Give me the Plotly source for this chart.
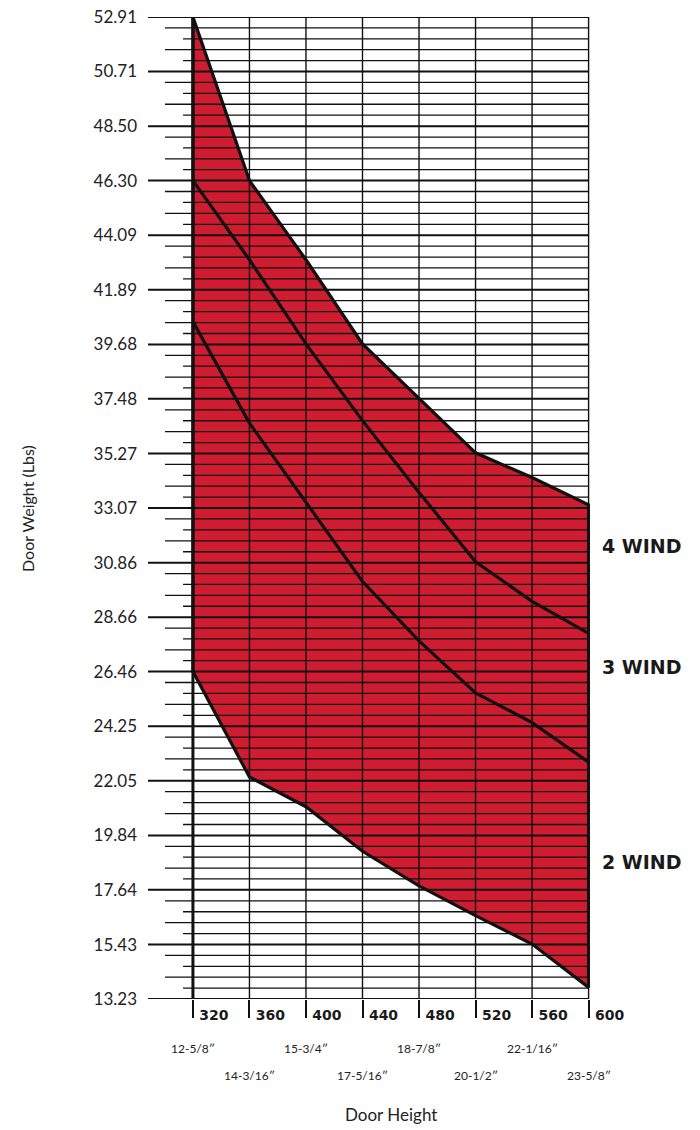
import plotly.graph_objects as go

# ---------------- data ----------------
door_heights = [320, 360, 400, 440, 480, 520, 560, 600]
height_tick_text = ["320", "360", "400", "440", "480", "520", "560", "600"]
inch_labels = ["12-5/8″", "14-3/16″", "15-3/4″", "17-5/16″",
               "18-7/8″", "20-1/2″", "22-1/16″", "23-5/8″"]

# boundaries of the wind bands (door weight, lbs)
wind4_top = [52.91, 46.30, 43.1, 39.7, 37.5, 35.3, 34.3, 33.2]
wind3_top = [46.30, 43.1, 39.7, 36.6, 33.7, 30.9, 29.3, 28.0]
wind2_top = [40.6, 36.5, 33.3, 30.1, 27.7, 25.6, 24.4, 22.8]
wind2_bottom = [26.46, 22.2, 21.0, 19.2, 17.8, 16.6, 15.45, 13.7]

weight_ticks = [13.23, 15.43, 17.64, 19.84, 22.05, 24.25, 26.46, 28.66, 30.86,
                33.07, 35.27, 37.48, 39.68, 41.89, 44.09, 46.30, 48.50, 50.71, 52.91]
weight_tick_text = ["13.23", "15.43", "17.64", "19.84", "22.05", "24.25", "26.46",
                    "28.66", "30.86", "33.07", "35.27", "37.48", "39.68", "41.89",
                    "44.09", "46.30", "48.50", "50.71", "52.91"]

wind_labels = ["4 WIND", "3 WIND", "2 WIND"]
wind_label_y = [31.54, 26.65, 18.77]

# ---------------- style ----------------
RED = "#CF1C30"
INK = "#111111"
X_LEFT = 288.2
X_RIGHT = 601.0
MINOR_LONG_START = 300.2
MINOR_SHORT_START = 313.0

fig = go.Figure()

# band fills
fig.add_trace(go.Scatter(x=door_heights, y=wind2_bottom, mode="lines",
                         line=dict(width=0, color=RED), hoverinfo="skip", showlegend=False))
for top in (wind2_top, wind3_top, wind4_top):
    fig.add_trace(go.Scatter(x=door_heights, y=top, mode="lines", fill="tonexty",
                             fillcolor=RED, line=dict(width=0, color=RED),
                             hoverinfo="skip", showlegend=False))

# grid lines on top of the fill
ymin, ymax = weight_ticks[0], weight_ticks[-1]
mx, my = [], []
for v in weight_ticks:
    mx += [X_LEFT, door_heights[-1], None]
    my += [v, v, None]
fig.add_trace(go.Scatter(x=mx, y=my, mode="lines", line=dict(color=INK, width=2),
                         hoverinfo="skip", showlegend=False, cliponaxis=False))

nx, ny = [], []
for a, b in zip(weight_ticks[:-1], weight_ticks[1:]):
    step = (b - a) / 5
    for k in range(1, 5):
        v = b - k * step
        start = MINOR_LONG_START if k % 2 == 1 else MINOR_SHORT_START
        nx += [start, door_heights[-1], None]
        ny += [v, v, None]
fig.add_trace(go.Scatter(x=nx, y=ny, mode="lines", line=dict(color=INK, width=1.3),
                         hoverinfo="skip", showlegend=False, cliponaxis=False))

vx, vy = [], []
for h in door_heights[1:]:
    vx += [h, h, None]
    vy += [ymin, ymax, None]
fig.add_trace(go.Scatter(x=vx, y=vy, mode="lines", line=dict(color=INK, width=1.4),
                         hoverinfo="skip", showlegend=False, cliponaxis=False))
fig.add_trace(go.Scatter(x=[door_heights[0], door_heights[0]], y=[ymin, ymax], mode="lines",
                         line=dict(color=INK, width=3), hoverinfo="skip",
                         showlegend=False, cliponaxis=False))

# outline and band separators
ox = door_heights + [door_heights[-1]] + door_heights[::-1] + [door_heights[0]]
oy = wind4_top + [wind2_bottom[-1]] + wind2_bottom[::-1] + [wind4_top[0]]
fig.add_trace(go.Scatter(x=ox, y=oy, mode="lines", line=dict(color=INK, width=3.2),
                         hoverinfo="skip", showlegend=False, cliponaxis=False))
for sep in (wind3_top, wind2_top):
    fig.add_trace(go.Scatter(x=door_heights, y=sep, mode="lines",
                             line=dict(color=INK, width=3.2), hoverinfo="skip",
                             showlegend=False, cliponaxis=False))

PLOT_W = 442.0
annotations = []
for i, (h, lab) in enumerate(zip(door_heights, inch_labels)):
    annotations.append(dict(x=h, y=-0.0499 if i % 2 == 0 else -0.0774, xref="x", yref="paper",
                            text=lab, showarrow=False, xanchor="center", yanchor="middle",
                            font=dict(family="Lato", size=12, color="#222")))
for lab, yv in zip(wind_labels, wind_label_y):
    annotations.append(dict(x=(600 - 148) / PLOT_W, y=yv, xref="paper", yref="y", text=lab,
                            showarrow=False, xanchor="left", yanchor="middle",
                            font=dict(family="DejaVu Sans", size=19, color="#1a1a1a", weight="bold")))
annotations.append(dict(x=(391 - 148) / PLOT_W, y=-0.118, xref="paper", yref="paper",
                        text="Door Height", showarrow=False, xanchor="center", yanchor="middle",
                        font=dict(family="Lato", size=17, color="#222")))
annotations.append(dict(x=(27 - 148) / PLOT_W, y=0.5, xref="paper", yref="paper",
                        text="Door Weight (Lbs)", showarrow=False, xanchor="center",
                        yanchor="middle", textangle=-90,
                        font=dict(family="Lato", size=16, color="#222")))

fig.update_layout(
    width=700, height=1130,
    margin=dict(l=148, r=110, t=17, b=131, autoexpand=False),
    plot_bgcolor="white", paper_bgcolor="white",
    showlegend=False,
    annotations=annotations,
    xaxis=dict(range=[X_LEFT, X_RIGHT], showgrid=False, zeroline=False, showline=False,
               automargin=False, ticklabeloverflow="allow",
               tickmode="array", tickvals=door_heights, ticktext=height_tick_text,
               ticks="outside", ticklen=18, tickwidth=1.5, tickcolor=INK,
               ticklabelshift=21, ticklabelstandoff=-15,
               tickfont=dict(family="DejaVu Sans", size=14, color="#1a1a1a", weight="bold")),
    yaxis=dict(range=[ymin, ymax], showgrid=False, zeroline=False, showline=False,
               automargin=False, ticklabeloverflow="allow",
               tickmode="array", tickvals=weight_ticks, ticktext=weight_tick_text,
               ticks="", ticklabelstandoff=10,
               tickfont=dict(family="Lato", size=17, color="#222")),
)

# remove the browser's default 8px page margin so the figure fills the window exactly
fig.write_html("out.html", config={"displayModeBar": False},
               post_script="document.body.style.margin='0px';")
